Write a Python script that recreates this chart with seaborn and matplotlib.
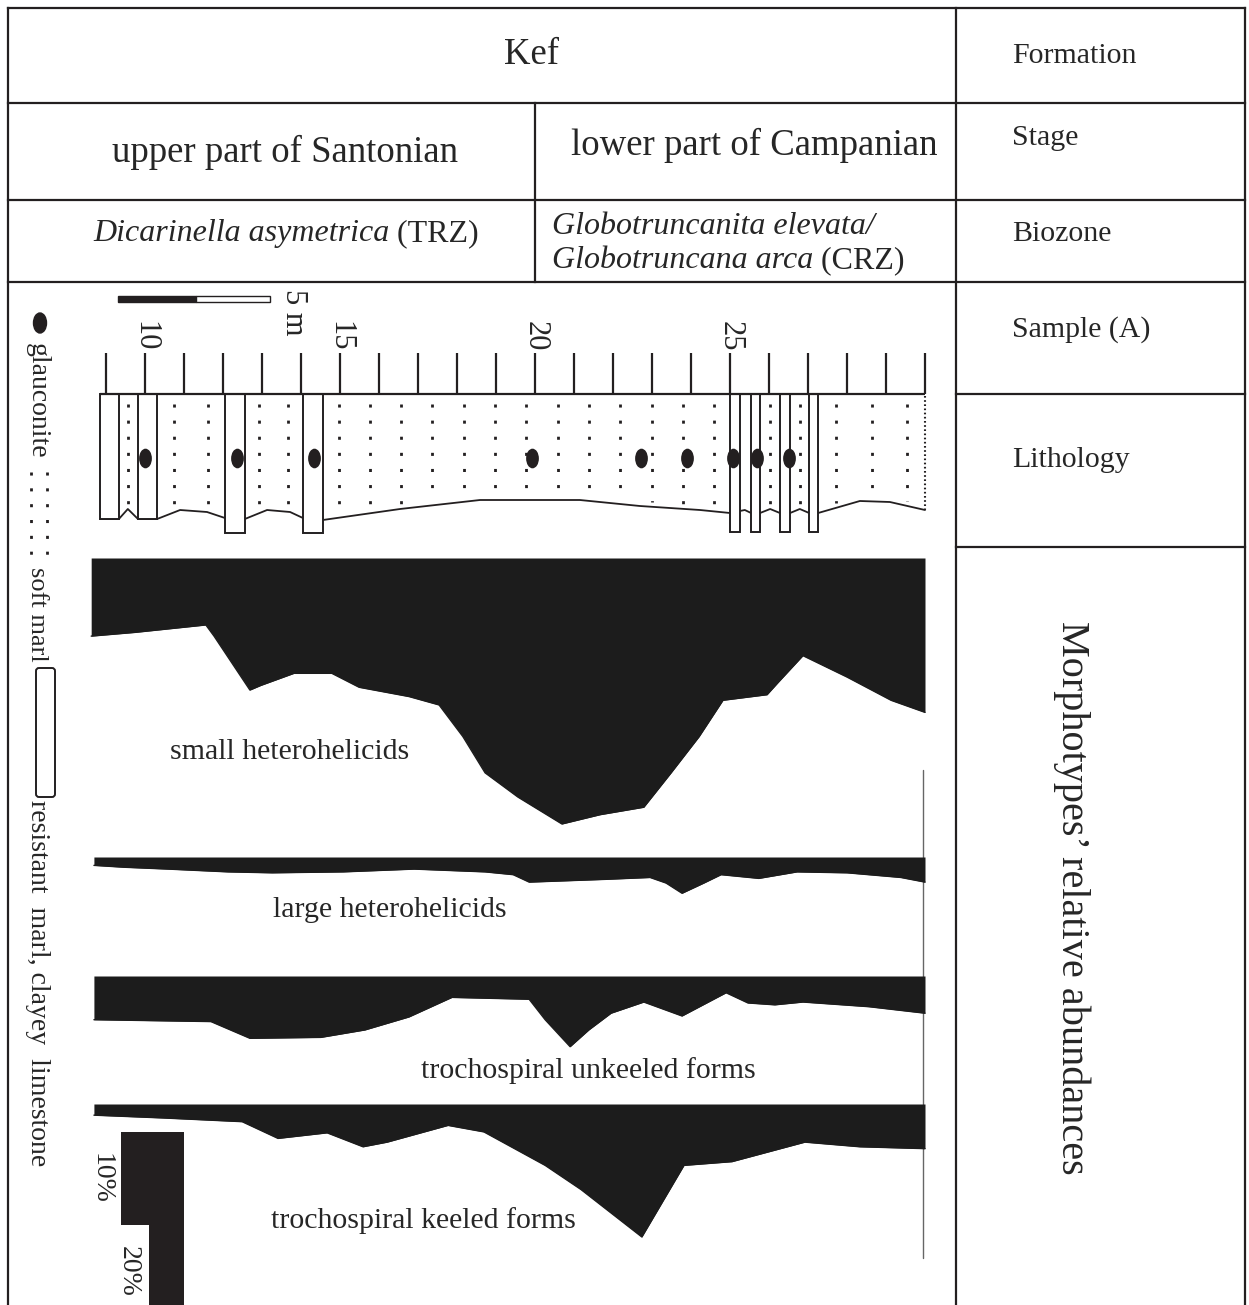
import numpy as np
import pandas as pd
import seaborn as sns
import matplotlib.pyplot as plt
from matplotlib.patches import Rectangle, FancyBboxPatch, Ellipse
from matplotlib.path import Path
from matplotlib.transforms import Affine2D

sns.set_style("white")
plt.rcParams['font.family'] = ['Liberation Serif', 'DejaVu Serif']

W, H = 1249, 1305
INK = '#231f20'
FILL = '#1c1c1c'

# sample scale (m) and lithology
sample_ticks = list(range(9, 31))
sample_labels = [10, 15, 20, 25]
glauconite_m = [10.0, 12.36, 14.33, 19.92, 22.72, 23.9, 25.08, 25.69, 26.51]
resistant_beds = [(8.85, 9.33), (9.82, 10.31), (12.05, 12.56), (14.05, 14.56),
                  (25.0, 25.26), (25.54, 25.77), (26.28, 26.54), (27.03, 27.26)]
bed_base = [519, 519, 533, 533, 532, 532, 532, 532]
# weathering profile at the foot of the soft marl
profile_m = [8.85, 9.33, 9.56, 9.82, 10.31, 10.90, 11.59, 12.05, 12.56, 13.13, 13.72,
             14.05, 14.56, 16.54, 18.59, 21.15, 22.69, 24.23, 25.0, 25.38, 25.54, 25.77,
             26.03, 26.28, 26.54, 26.79, 27.03, 27.26, 28.33, 29.10, 30.0]
profile_y = [519, 519, 509, 519, 519, 510, 512, 518, 519, 510, 512,
             518, 520, 509, 500, 500, 506, 510, 513, 510, 513, 513,
             509, 513, 513, 509, 513, 513, 501, 502, 510]

# morphotype relative abundances (%)
small_m = [8.62, 9.74, 11.56, 11.77, 12.69, 12.97, 13.82, 14.79, 15.49, 16.77, 17.54, 18.15, 18.72,
           19.56, 20.69, 21.67, 22.79, 23.49, 24.21, 24.82, 25.95, 26.23, 26.87, 28.0, 29.13, 30.0]
small_pct = [8.4, 8.0, 7.2, 8.4, 14.2, 13.7, 12.4, 12.4, 13.9, 14.9, 15.8, 19.2, 23.1,
             25.7, 28.6, 27.6, 26.8, 23.1, 19.2, 15.3, 14.7, 13.4, 10.5, 12.8, 15.3, 16.6]
large_m = [8.69, 9.46, 10.59, 12.13, 13.26, 15.08, 16.90, 18.72, 19.44, 19.85, 21.82,
           22.95, 23.36, 23.77, 24.33, 24.77, 25.74, 26.72, 28.0, 29.38, 30.0]
large_pct = [0.9, 1.1, 1.3, 1.6, 1.7, 1.6, 1.3, 1.6, 1.9, 2.7, 2.4,
             2.2, 2.8, 3.9, 2.8, 1.9, 2.3, 1.6, 1.7, 2.2, 2.7]
unkeeled_m = [8.69, 11.69, 12.69, 14.51, 15.64, 16.77, 17.87, 19.85, 20.26, 20.90,
              21.38, 21.95, 22.79, 23.77, 24.90, 25.46, 26.15, 26.87, 28.56, 30.0]
unkeeled_pct = [4.7, 4.9, 6.7, 6.6, 5.8, 4.4, 2.3, 2.5, 4.7, 7.6,
                5.8, 4.0, 2.8, 4.3, 1.8, 2.9, 3.1, 2.8, 3.3, 4.0]
keeled_m = [8.69, 10.46, 12.49, 13.41, 14.67, 15.59, 16.21, 17.77, 18.69,
            20.26, 21.18, 22.74, 23.82, 25.05, 26.92, 28.33, 30.0]
keeled_pct = [1.2, 1.5, 1.9, 3.7, 3.1, 4.6, 4.1, 2.3, 3.0,
              6.6, 9.2, 14.3, 6.6, 6.2, 4.1, 4.6, 4.8]
morpho_names = ['small heterohelicids', 'large heterohelicids',
                'trochospiral unkeeled forms', 'trochospiral keeled forms']
scale_steps = [10, 20]

PX_PER_M = 39.0
PX_PER_PCT = 9.3
XLIM = (10 + (90 - 145) / PX_PER_M, 10 + (930 - 145) / PX_PER_M)

fig = plt.figure(figsize=(W / 100, H / 100), dpi=100)


def px_axes(x0, y0, x1, y1):
    ax = fig.add_axes([x0 / W, 1 - y1 / H, (x1 - x0) / W, (y1 - y0) / H])
    ax.set_axis_off()
    ax.patch.set_alpha(0)
    return ax


# frame and header table
bg = px_axes(0, 0, W, H)
bg.set_xlim(0, W)
bg.set_ylim(H, 0)
seg = [((8, 1245), (8, 8)), ((8, 8), (8, 1310)), ((1245, 1245), (8, 1310)),
       ((956, 956), (8, 1310)), ((8, 1245), (103, 103)), ((8, 1245), (200, 200)),
       ((8, 1245), (282, 282)), ((535, 535), (103, 282)),
       ((956, 1245), (394, 394)), ((956, 1245), (547, 547))]
for xs, ys in seg:
    bg.plot(xs, ys, color=INK, lw=1.6, solid_capstyle='projecting')

big = 26.5
bg.text(532, 55, 'Kef', ha='center', va='center', fontsize=big)
bg.text(285, 152, 'upper part of Santonian', ha='center', va='center', fontsize=big)
bg.text(754, 145, 'lower part of Campanian', ha='center', va='center', fontsize=big)
t1 = bg.text(93, 234, 'Dicarinella asymetrica', ha='left', va='center', fontsize=23, style='italic')
bg.annotate(' (TRZ)', xy=(1, 0.5), xycoords=t1, ha='left', va='center', fontsize=23)
bg.text(552, 226, 'Globotruncanita elevata/', ha='left', va='center', fontsize=23, style='italic')
t2 = bg.text(552, 261, 'Globotruncana arca', ha='left', va='center', fontsize=23, style='italic')
bg.annotate(' (CRZ)', xy=(1, 0.5), xycoords=t2, ha='left', va='center', fontsize=23)

for txt, y in zip(['Formation', 'Stage', 'Biozone', 'Sample (A)', 'Lithology'],
                  [56, 138, 234, 330, 460]):
    bg.text(1012, y, txt, ha='left', va='center', fontsize=21.5)
bg.text(1072, 898, 'Morphotypes\u2019 relative abundances', rotation=-90,
        ha='center', va='center', fontsize=29)

# legend along the left edge
bg.add_patch(Ellipse((40, 323), 13, 20, color=INK))
bg.text(37, 401, 'glauconite', rotation=-90, ha='center', va='center', fontsize=20)
bg.vlines([31, 47], 472, 560, color=INK, lw=2, linestyles=[(0, (1.1, 4.6))])
bg.text(37, 614, 'soft marl', rotation=-90, ha='center', va='center', fontsize=19)
bg.add_patch(FancyBboxPatch((36, 668), 19, 129, boxstyle='round,pad=0,rounding_size=3',
                            fc='white', ec=INK, lw=1.4))
bg.text(37, 983, 'resistant  marl, clayey  limestone', rotation=-90,
        ha='center', va='center', fontsize=20)
bg.plot([923, 923], [770, 1258], color='#666666', lw=1)

# sample scale and lithological column
lit = px_axes(90, 285, 930, 545)
lit.set_xlim(*XLIM)
lit.set_ylim(545, 285)
lit.fill_between(profile_m, 394, profile_y, color='white', lw=0, zorder=1)
lit.plot(profile_m, profile_y, color=INK, lw=1.3, zorder=2)
lit.hlines(394, resistant_beds[0][0], 30, color=INK, lw=1.6, zorder=4)
lit.vlines(30, 396, 510, color=INK, lw=1.5, linestyles=[(0, (0.8, 1.2))], zorder=2)

beds = sorted(resistant_beds)
soft = [(a[1], b[0]) for a, b in zip(beds[:-1], beds[1:])] + [(beds[-1][1], 30)]
for a, b in soft:
    n = int(round((b - a) / 0.8))
    if n == 0:
        continue
    cols = a + (np.arange(n) + 0.5) * (b - a) / n
    bottoms = np.interp(cols, profile_m, profile_y) - 5
    for c, yb in zip(cols, bottoms):
        lit.vlines(c, 404, yb, color=INK, lw=2, linestyles=[(0, (1.1, 4.7))], zorder=2)

for (b0, b1), base in zip(resistant_beds, bed_base):
    lit.add_patch(Rectangle((b0, 394), b1 - b0, base - 394, fc='white', ec=INK,
                            lw=1.4, zorder=3))

ell = Path.unit_circle().transformed(Affine2D().scale(0.65, 1.0))
sns.scatterplot(x=glauconite_m, y=[458] * len(glauconite_m), ax=lit, marker=ell,
                s=200, color=INK, edgecolor=INK, linewidth=0, zorder=5, legend=False)

lit.vlines(sample_ticks, 353, 394, color=INK, lw=1.6)
for v in sample_labels:
    lit.text(v, 336, str(v), rotation=-90, ha='center', va='center', fontsize=22)
lit.add_patch(Rectangle((9.31, 296), 2.0, 6, fc=INK, ec=INK, lw=1))
lit.add_patch(Rectangle((11.31, 296), 1.9, 6, fc='white', ec=INK, lw=1))
lit.text(13.8, 312, '5 m', rotation=-90, ha='center', va='center', fontsize=22)
lit.set_xlim(*XLIM)
lit.set_ylim(545, 285)

# morphotype curves
curves = [(small_m, small_pct), (large_m, large_pct),
          (unkeeled_m, unkeeled_pct), (keeled_m, keeled_pct)]
tops = [558, 857, 976, 1104]
heights = [290, 110, 125, 160]
label_pos = [(13.72, 20.9), (16.28, 5.7), (21.38, 10.2), (17.15, 12.5)]
for (m, p), name, top, h, (lx, ly) in zip(curves, morpho_names, tops, heights, label_pos):
    ax = px_axes(90, top, 930, top + h)
    df = pd.DataFrame({'m': m, 'pct': p})
    ax.fill_between(df['m'], 0, df['pct'], color=FILL, lw=0)
    sns.lineplot(data=df, x='m', y='pct', ax=ax, color=FILL, lw=1)
    ax.text(lx, ly, name, ha='center', va='center', fontsize=21.5)
    ax.set_xlim(*XLIM)
    ax.set_ylim(h / PX_PER_PCT, 0)
    ax.set_axis_off()

# abundance scale bar
sc = px_axes(110, 1132, 200, 1332)
sc.set_xlim(0, 1)
sc.set_ylim(200 / PX_PER_PCT, 0)
sc.fill_betweenx([0, scale_steps[0]], 0.122, 0.822, color=INK, lw=0)
sc.fill_betweenx([scale_steps[0], scale_steps[1]], 0.433, 0.822, color=INK, lw=0)
sc.text(-0.1, scale_steps[0] / 2, f'{scale_steps[0]}%', rotation=-90, ha='center', va='center', fontsize=20)
sc.text(0.2, (scale_steps[0] + scale_steps[1]) / 2, f'{scale_steps[1]}%', rotation=-90,
        ha='center', va='center', fontsize=20)

fig.savefig('out.png', dpi=100)
